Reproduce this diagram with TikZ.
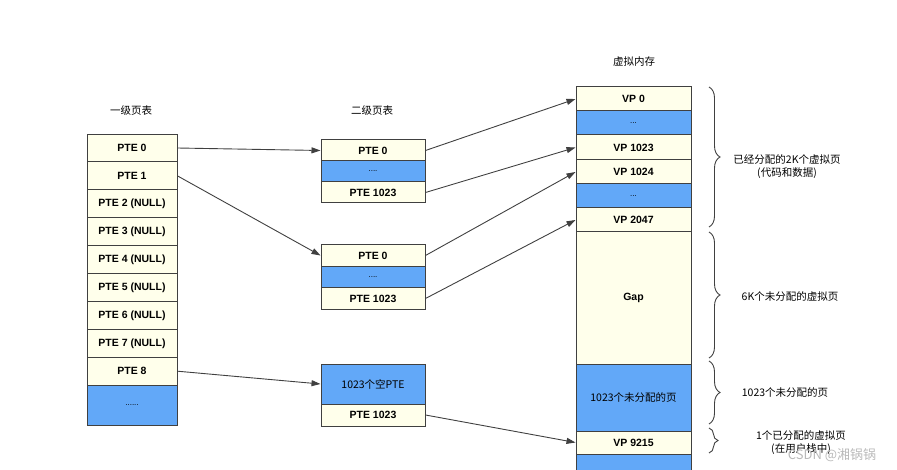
\documentclass[tikz,border=0pt]{standalone}
\usepackage{fontspec}
\setmainfont{Liberation Sans}
\newfontfamily\cjk{Noto Sans CJK SC}
\usetikzlibrary{arrows.meta,decorations.pathreplacing}

\definecolor{cream}{HTML}{FFFFEB}
\definecolor{holeblue}{HTML}{62A8F8}
\definecolor{edge}{HTML}{404040}

\tikzset{
  cell/.style={draw=edge, line width=1pt, fill=cream, inner sep=0pt,
    font=\fontsize{10.5}{12}\selectfont\bfseries},
  hole/.style={cell, fill=holeblue},
  cjklabel/.style={font=\cjk\fontsize{10.5}{13}\selectfont, align=center},
  ptr/.style={draw=edge, line width=0.9pt, -{Triangle[length=9pt,width=6pt]}},
  span/.style={draw=edge, line width=0.9pt,
    decorate, decoration={brace, amplitude=11pt}}
}

\begin{document}
\begin{tikzpicture}[x=1pt, y=-1pt]
  \useasboundingbox (0,0) rectangle (897,470);
  \clip (0,0) rectangle (897,470);

  % Titles
  \node[cjklabel] (t1) at (131,111) {一级页表};
  \node[cjklabel] (t2) at (372,111) {二级页表};
  \node[cjklabel] (t3) at (634,62) {虚拟内存};

  % First level page table
  \foreach \i/\txt in {0/PTE 0, 1/PTE 1, 2/PTE 2 (NULL), 3/PTE 3 (NULL),
                       4/PTE 4 (NULL), 5/PTE 5 (NULL), 6/PTE 6 (NULL),
                       7/PTE 7 (NULL), 8/PTE 8}
    \node[cell, minimum width=90pt, minimum height=27.9pt]
      (a\i) at (132,148+27.9*\i) {\txt};
  \node[hole, minimum width=90pt, minimum height=40pt, font=\fontsize{8}{10}\selectfont]
    (a9) at (132,405) {......};

  % Second level page tables
  \node[cell, minimum width=104pt, minimum height=21pt] (b0) at (373,150.5) {PTE 0};
  \node[hole, minimum width=104pt, minimum height=21pt, font=\fontsize{8}{10}\selectfont]
    (b1) at (373,171.5) {....};
  \node[cell, minimum width=104pt, minimum height=21pt] (b2) at (373,192.5) {PTE 1023};

  \node[cell, minimum width=104pt, minimum height=21.5pt] (c0) at (373,255.5) {PTE 0};
  \node[hole, minimum width=104pt, minimum height=21.5pt, font=\fontsize{8}{10}\selectfont]
    (c1) at (373,277) {....};
  \node[cell, minimum width=104pt, minimum height=21.5pt] (c2) at (373,298.5) {PTE 1023};

  \node[hole, minimum width=104pt, minimum height=40pt, font=\cjk\fontsize{10.5}{13}\selectfont]
    (d0) at (373,384) {1023个空PTE};
  \node[cell, minimum width=104pt, minimum height=22pt] (d1) at (373,415) {PTE 1023};

  % Virtual memory
  \node[cell, minimum width=115pt, minimum height=24pt] (v0) at (633.5,99) {VP 0};
  \node[hole, minimum width=115pt, minimum height=24pt, font=\fontsize{8}{10}\selectfont]
    (v1) at (633.5,123) {...};
  \node[cell, minimum width=115pt, minimum height=25pt] (v2) at (633.5,147.5) {VP 1023};
  \node[cell, minimum width=115pt, minimum height=24pt] (v3) at (633.5,172) {VP 1024};
  \node[hole, minimum width=115pt, minimum height=24pt, font=\fontsize{8}{10}\selectfont]
    (v4) at (633.5,196) {...};
  \node[cell, minimum width=115pt, minimum height=24pt] (v5) at (633.5,220) {VP 2047};
  \node[cell, minimum width=115pt, minimum height=132pt] (v6) at (633.5,298) {Gap};
  \node[hole, minimum width=115pt, minimum height=67pt, font=\cjk\fontsize{10.5}{13}\selectfont]
    (v7) at (633.5,397.5) {1023个未分配的页};
  \node[cell, minimum width=115pt, minimum height=23pt] (v8) at (633.5,442.5) {VP 9215};
  \node[hole, minimum width=115pt, minimum height=40pt, font=\fontsize{8}{10}\selectfont]
    (v9) at (633.5,474) {......};

  % Pointers
  \draw[ptr] (a0.east) -- (b0.west);
  \draw[ptr] (a1.east) -- (c0.west);
  \draw[ptr] (a8.east) -- (d0.west);
  \draw[ptr] (b0.east) -- (v0.west);
  \draw[ptr] (b2.east) -- (v2.west);
  \draw[ptr] (c0.east) -- (v3.west);
  \draw[ptr] (c2.east) -- (v5.west);
  \draw[ptr] (d1.east) -- (v8.west);

  % Braces
  \coordinate (s0) at (709,87);
  \coordinate (s1) at (709,227);
  \coordinate (s2) at (709,232);
  \coordinate (s3) at (709,358);
  \coordinate (s4) at (709,361);
  \coordinate (s5) at (709,424);
  \coordinate (s6) at (709,428);
  \coordinate (s7) at (709,453);
  \draw[span] (s0) -- (s1);
  \draw[span] (s2) -- (s3);
  \draw[span] (s4) -- (s5);
  \draw[span, decoration={amplitude=9pt}] (s6) -- (s7);

  % Brace labels
  \node[cjklabel] (n0) at (787,167) {已经分配的2K个虚拟页\\(代码和数据)};
  \node[cjklabel] (n1) at (790,297) {6K个未分配的虚拟页};
  \node[cjklabel] (n2) at (785,393) {1023个未分配的页};
  \node[cjklabel] (n3) at (801,443) {1个已分配的虚拟页\\(在用户栈中)};

  % Watermark
  \node[font=\cjk\fontsize{13}{15}\selectfont, text=gray!55] (wm) at (832,455) {CSDN @湘锅锅};
\end{tikzpicture}
\end{document}
